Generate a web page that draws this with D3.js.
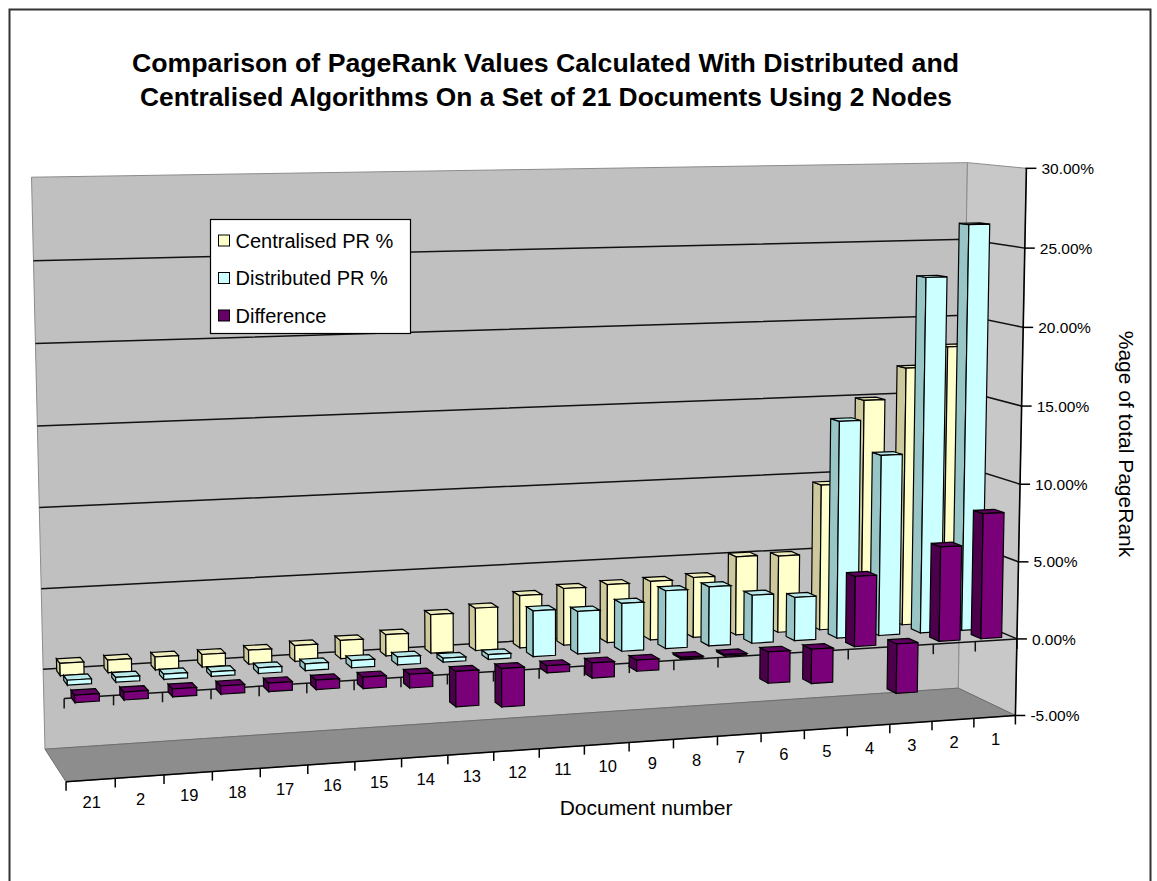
<!DOCTYPE html>
<html>
<head>
<meta charset="utf-8">
<script src="https://cdn.jsdelivr.net/npm/d3@7"></script>
<style>
  body { margin: 0; background: #fff; }
  text { font-family: "Liberation Sans", Arial, sans-serif; fill: #000; }
  .title { font-family: "Liberation Sans Narrow", "Liberation Sans", Arial, sans-serif; }
</style>
</head>
<body>
<svg id="chart" width="1157" height="881"></svg>
<script>
// ---- data -------------------------------------------------------------
const docLabels = ["21", "2", "19", "18", "17", "16", "15", "14", "13", "12", "11",
                   "10", "9", "8", "7", "6", "5", "4", "3", "2", "1"];
const centralised = [0.75, 0.78, 0.80, 0.78, 0.88, 1.00, 1.15, 1.35, 2.45, 2.70, 3.35,
                     3.65, 3.75, 3.80, 3.90, 5.10, 5.00, 9.50, 14.90, 16.90, 18.20];
const distributed = [0.30, 0.30, 0.32, 0.28, 0.35, 0.42, 0.45, 0.50, 0.25, 0.30, 2.90,
                     2.70, 3.05, 3.70, 3.80, 3.10, 2.80, 14.00, 11.70, 23.00, 26.30];
const difference  = [-0.45, -0.48, -0.48, -0.50, -0.53, -0.58, -0.70, -0.85, -2.20, -2.40, -0.45,
                     -0.95, -0.70, -0.10, -0.10, -2.00, -2.20, 4.50, -3.20, 6.10, 8.10];
const seriesNames = ["Centralised PR %", "Distributed PR %", "Difference"];
const valueTicks = [-5, 0, 5, 10, 15, 20, 25, 30];

const titleLines = [
  "Comparison of PageRank Values Calculated With Distributed and",
  "Centralised Algorithms On a Set of 21 Documents Using 2 Nodes"
];

// ---- scales (normalised box coordinates: x, y, z all in [0,1]) ---------
const xScale = d3.scaleBand().domain(d3.range(docLabels.length)).range([0, 1])
  .paddingInner(0.5).paddingOuter(0.25);
const yScale = d3.scaleLinear().domain([-5, 30]).range([0, 1]);
// depth rows, front to back
const zScale = d3.scaleBand().domain(["Difference", "Distributed PR %", "Centralised PR %"])
  .range([0, 1]).paddingInner(0.5).paddingOuter(0.25);

const seriesValues = {
  "Centralised PR %": centralised,
  "Distributed PR %": distributed,
  "Difference": difference
};
const palette = {
  "Centralised PR %": { front: "#ffffcc", side: "#cdc99d", top: "#efedbd", key: "#ffffcc" },
  "Distributed PR %": { front: "#ccffff", side: "#98c6c6", top: "#b9e9e9", key: "#ccffff" },
  "Difference":       { front: "#7a007a", side: "#4c004c", top: "#600060", key: "#660066" }
};

// ---- camera: perspective fitted to where the plot box sits on the page ---
// each entry: [x, value, z, screenX, screenY]
const boxAnchors = [
  [0, 30, 1, 32, 178], [0, 25, 1, 33, 260], [0, 5, 1, 41, 589], [0, 0, 1, 43, 669], [0, -5, 1, 45, 750],
  [1, 30, 1, 968, 163], [1, -5, 1, 958, 687],
  [1, 30, 0, 1027, 168], [1, 20, 0, 1022, 327], [1, 5, 0, 1018, 563], [1, 0, 0, 1017, 638], [1, -5, 0, 1015, 715],
  [0, -5, 0, 67, 782], [0, 0, 0, 63, 697],
  [1 / 21, -5, 0, 116, 778], [2 / 21, -5, 0, 164, 775], [3 / 21, -5, 0, 212, 772],
  [18 / 21, -5, 0, 890, 726], [19 / 21, -5, 0, 932, 722], [20 / 21, -5, 0, 975, 718]
];

function fitCamera(anchors) {
  const rows = [], rhs = [];
  anchors.forEach(a => {
    const X = a[0], Y = yScale(a[1]), Z = a[2], u = a[3] / 1000, v = a[4] / 1000;
    rows.push([X, Y, Z, 1, 0, 0, 0, 0, -u * X, -u * Y, -u * Z]); rhs.push(u);
    rows.push([0, 0, 0, 0, X, Y, Z, 1, -v * X, -v * Y, -v * Z]); rhs.push(v);
  });
  const n = 11;
  const M = Array.from({ length: n }, () => new Array(n + 1).fill(0));
  rows.forEach((r, k) => {
    for (let i = 0; i < n; i++) {
      for (let j = 0; j < n; j++) M[i][j] += r[i] * r[j];
      M[i][n] += r[i] * rhs[k];
    }
  });
  for (let c = 0; c < n; c++) {
    let p = c;
    for (let r = c + 1; r < n; r++) if (Math.abs(M[r][c]) > Math.abs(M[p][c])) p = r;
    [M[c], M[p]] = [M[p], M[c]];
    for (let r = 0; r < n; r++) {
      if (r === c) continue;
      const f = M[r][c] / M[c][c];
      for (let j = c; j <= n; j++) M[r][j] -= f * M[c][j];
    }
  }
  return M.map((row, i) => row[n] / row[i]);
}
const P = fitCamera(boxAnchors);
function project(x, y, z) {
  const w = P[8] * x + P[9] * y + P[10] * z + 1;
  return [1000 * (P[0] * x + P[1] * y + P[2] * z + P[3]) / w,
          1000 * (P[4] * x + P[5] * y + P[6] * z + P[7]) / w];
}
// camera centre (null space of the projection) decides which bar faces show
const cam = (() => {
  const A = [[P[0], P[1], P[2]], [P[4], P[5], P[6]], [P[8], P[9], P[10]]];
  const b = [-P[3], -P[7], -1];
  const det = m => m[0][0] * (m[1][1] * m[2][2] - m[1][2] * m[2][1])
                 - m[0][1] * (m[1][0] * m[2][2] - m[1][2] * m[2][0])
                 + m[0][2] * (m[1][0] * m[2][1] - m[1][1] * m[2][0]);
  const D = det(A);
  return [0, 1, 2].map(c => det(A.map((row, i) => row.map((v, j) => (j === c ? b[i] : v)))) / D);
})();

const poly = pts => "M" + pts.map(p => project(p[0], p[1], p[2]).map(d => d.toFixed(2)).join(",")).join("L") + "Z";
const line = pts => "M" + pts.map(p => project(p[0], p[1], p[2]).map(d => d.toFixed(2)).join(",")).join("L");

// ---- drawing ----------------------------------------------------------
const svg = d3.select("#chart");

// outer chart border
svg.append("rect").attr("x", 9.5).attr("y", 9.5).attr("width", 1141).attr("height", 900)
  .attr("fill", "#fff").attr("stroke", "#333").attr("stroke-width", 2);

// title
svg.append("g").selectAll("text").data(titleLines).join("text")
  .attr("class", "title")
  .attr("x", (d, i) => i === 0 ? 132 : 140)
  .attr("y", (d, i) => i === 0 ? 72 : 106)
  .attr("textLength", (d, i) => i === 0 ? 827 : 812)
  .attr("lengthAdjust", "spacingAndGlyphs")
  .style("font-size", "25px").style("font-weight", "bold")
  .text(d => d);

const y0 = yScale(-5), y1 = yScale(30);
const box = svg.append("g");
// back wall, side wall, floor
box.append("path").attr("d", poly([[0, y0, 1], [1, y0, 1], [1, y1, 1], [0, y1, 1]]))
  .attr("fill", "#c0c0c0").attr("stroke", "#8c8c8c").attr("stroke-width", 1);
box.append("path").attr("d", poly([[1, y0, 1], [1, y0, 0], [1, y1, 0], [1, y1, 1]]))
  .attr("fill", "#c8c8c8").attr("stroke", "#8c8c8c").attr("stroke-width", 1);
box.append("path").attr("d", poly([[0, y0, 0], [1, y0, 0], [1, y0, 1], [0, y0, 1]]))
  .attr("fill", "#8d8d8d").attr("stroke", "#6e6e6e").attr("stroke-width", 1);

// gridlines across the back and side walls
box.append("g").selectAll("path").data(valueTicks.filter(v => v > -5 && v < 30)).join("path")
  .attr("d", v => line([[0, yScale(v), 1], [1, yScale(v), 1], [1, yScale(v), 0]]))
  .attr("fill", "none").attr("stroke", "#111").attr("stroke-width", 1.5);

// zero line along the front with its category ticks
const zeroY = yScale(0);
box.append("path").attr("d", line([[0, zeroY, 0], [1, zeroY, 0]]))
  .attr("fill", "none").attr("stroke", "#111").attr("stroke-width", 1.5);
box.append("g").selectAll("path").data(d3.range(docLabels.length + 1)).join("path")
  .attr("d", k => { const p = project(k / 21, zeroY, 0); return `M${p[0]},${p[1]}v10`; })
  .attr("stroke", "#111").attr("stroke-width", 1.5);

// ---- bars --------------------------------------------------------------
const bw = xScale.bandwidth(), bd = zScale.bandwidth();
const bars = [];
seriesNames.forEach(s => {
  seriesValues[s].forEach((v, i) => {
    const x0 = xScale(i), x1 = x0 + bw;
    const z0 = zScale(s), z1 = z0 + bd;
    const ya = yScale(Math.min(0, v)), yb = yScale(Math.max(0, v));
    const c = [(x0 + x1) / 2 - cam[0], (ya + yb) / 2 - cam[1], (z0 + z1) / 2 - cam[2]];
    bars.push({ s, v, x0, x1, z0, z1, ya, yb, dist: Math.hypot(c[0], c[1], c[2]) });
  });
});
bars.sort((a, b) => b.dist - a.dist);

const barG = svg.append("g");
bars.forEach(b => {
  const col = palette[b.s];
  const faces = [];
  const { x0, x1, ya, yb, z0, z1 } = b;
  if (cam[0] < x0) faces.push({ pts: [[x0, ya, z0], [x0, ya, z1], [x0, yb, z1], [x0, yb, z0]], fill: col.side });
  if (cam[0] > x1) faces.push({ pts: [[x1, ya, z0], [x1, ya, z1], [x1, yb, z1], [x1, yb, z0]], fill: col.side });
  if (cam[1] > yb) faces.push({ pts: [[x0, yb, z0], [x1, yb, z0], [x1, yb, z1], [x0, yb, z1]], fill: col.top });
  if (cam[1] < ya) faces.push({ pts: [[x0, ya, z0], [x1, ya, z0], [x1, ya, z1], [x0, ya, z1]], fill: col.top });
  if (cam[2] < z0) faces.push({ pts: [[x0, ya, z0], [x1, ya, z0], [x1, yb, z0], [x0, yb, z0]], fill: col.front });
  const g = barG.append("g");
  faces.forEach(f => g.append("path").attr("d", poly(f.pts))
    .attr("fill", f.fill).attr("stroke", "#000").attr("stroke-width", 1.2)
    .attr("stroke-linejoin", "miter"));
});

// ---- axes --------------------------------------------------------------
const axes = svg.append("g");
// category axis along the front edge of the floor
axes.append("path").attr("d", line([[0, y0, 0], [1, y0, 0]]))
  .attr("fill", "none").attr("stroke", "#000").attr("stroke-width", 1.5);
axes.append("g").selectAll("path").data(d3.range(docLabels.length + 1)).join("path")
  .attr("d", k => { const p = project(k / 21, y0, 0); return `M${p[0]},${p[1]}v9`; })
  .attr("stroke", "#000").attr("stroke-width", 1.5);
axes.append("g").selectAll("text").data(docLabels).join("text")
  .attr("transform", (d, i) => {
    const p = project(xScale(i) + bw / 2, y0, 0);
    return `translate(${p[0] + 1},${p[1] + 28})`;
  })
  .attr("text-anchor", "middle").style("font-size", "16.5px")
  .text(d => d);

// value axis on the front right edge
const fmt = d3.formatLocale({ decimal: ".", thousands: ",", grouping: [3], currency: ["", ""], minus: "-" }).format(".2%");
axes.append("path").attr("d", line([[1, y0, 0], [1, y1, 0]]))
  .attr("fill", "none").attr("stroke", "#000").attr("stroke-width", 1.6);
const vt = axes.append("g").selectAll("g").data(valueTicks).join("g")
  .attr("transform", v => { const p = project(1, yScale(v), 0); return `translate(${p[0]},${p[1]})`; });
vt.append("path").attr("d", "M-1,0H10").attr("stroke", "#000").attr("stroke-width", 1.5);
vt.append("text").attr("x", 15).attr("dy", "0.36em").style("font-size", "15.5px")
  .text(v => fmt(v / 100));

// axis titles
svg.append("text").attr("x", 646).attr("y", 815).attr("text-anchor", "middle")
  .style("font-size", "21px").text("Document number");
svg.append("text").attr("transform", "translate(1119,444) rotate(90)").attr("text-anchor", "middle")
  .style("font-size", "21px").text("%age of total PageRank");

// ---- legend ------------------------------------------------------------
const legend = svg.append("g").attr("transform", "translate(210.5,219.5)");
legend.append("rect").attr("width", 200).attr("height", 114)
  .attr("fill", "#fff").attr("stroke", "#000").attr("stroke-width", 1.2);
const li = legend.selectAll("g").data(seriesNames).join("g")
  .attr("transform", (d, i) => `translate(8,${21 + i * 37.5})`);
li.append("rect").attr("x", 0).attr("y", -5.5).attr("width", 11).attr("height", 11)
  .attr("fill", d => palette[d].key).attr("stroke", "#000").attr("stroke-width", 1);
li.append("text").attr("x", 17).attr("y", 7).style("font-size", "20px").text(d => d);
</script>
</body>
</html>
